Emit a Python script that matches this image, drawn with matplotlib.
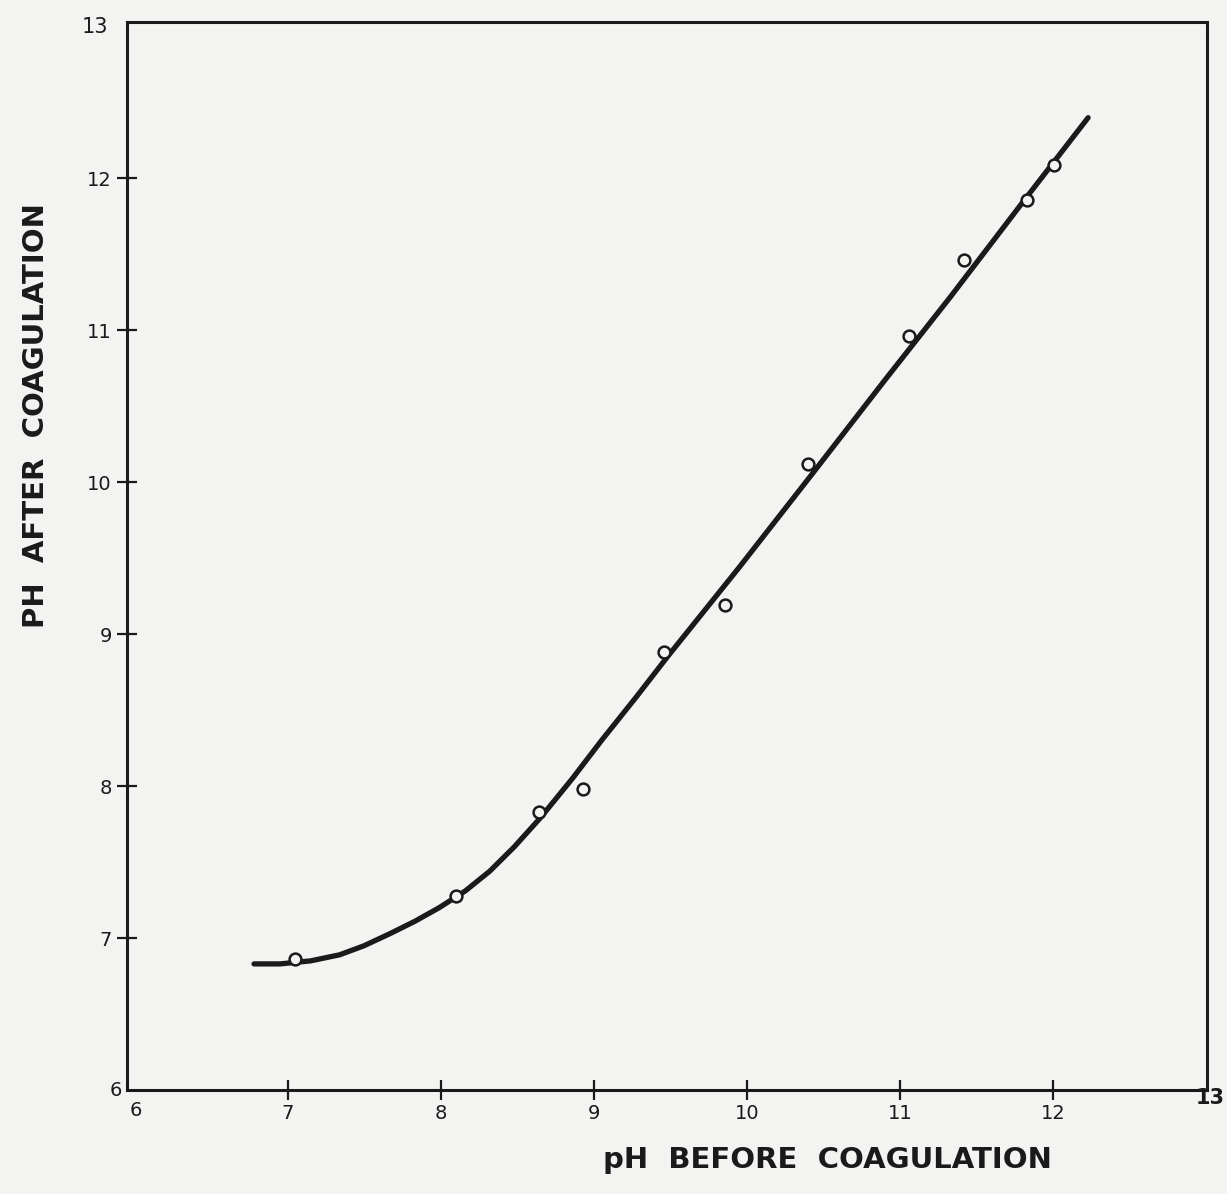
import numpy as np
import matplotlib.pyplot as plt

# measured points
ph_before = [7.05, 8.10, 8.64, 8.93, 9.46, 9.86, 10.40, 11.06, 11.42, 11.83, 12.01]
ph_after = [6.86, 7.28, 7.83, 7.98, 8.88, 9.19, 10.12, 10.96, 11.46, 11.86, 12.09]

# hand-drawn smooth curve through the data
curve_x = [6.78, 6.95, 7.15, 7.34, 7.50, 7.67, 7.83, 7.99, 8.16, 8.32, 8.48,
           8.65, 8.86, 9.05, 9.28, 9.48, 9.95, 10.40, 10.90, 11.33, 11.80, 12.23]
curve_y = [6.83, 6.83, 6.85, 6.89, 6.95, 7.03, 7.11, 7.20, 7.31, 7.44, 7.60,
           7.79, 8.05, 8.30, 8.59, 8.85, 9.44, 10.02, 10.67, 11.22, 11.84, 12.40]

xticks = [7, 8, 9, 10, 11, 12]
yticks = [7, 8, 9, 10, 11, 12]

paper = '#f3f3f1'
ink = '#1a1a1a'

fig = plt.figure(figsize=(12.27, 11.94), dpi=100, facecolor=paper)
ax = fig.add_axes([0.1035, 0.0871, 0.8806, 0.8945], facecolor=paper)

ax.plot(curve_x, curve_y, color=ink, lw=3.8, solid_capstyle='round',
        solid_joinstyle='round', zorder=2)
ax.plot(ph_before, ph_after, 'o', ms=8.5, mfc=paper, mec=ink, mew=1.8, zorder=3)

ax.set_xlim(5.95, 13.01)
ax.set_ylim(6, 13.03)

for s in ax.spines.values():
    s.set_linewidth(2.2)
    s.set_color(ink)

ax.set_xticks(xticks)
ax.set_yticks(yticks)
ax.tick_params(direction='inout', length=14, width=1.6, colors=ink,
               labelsize=14, pad=4)
ax.tick_params(axis='x', pad=3)

# end labels sitting at the corners
ax.text(6.01, 5.93, '6', ha='center', va='top', fontsize=14, color=ink)
ax.text(5.92, 6.0, '6', ha='right', va='center', fontsize=14, color=ink)
ax.text(5.83, 13.0, '13', ha='right', va='center', fontsize=15, color=ink)
ax.text(13.03, 5.95, '13', ha='center', va='center', fontsize=15,
        fontweight='bold', color=ink)

fig.text(0.674, 0.022, 'pH  BEFORE  COAGULATION', fontsize=21, fontweight='bold',
         color=ink, ha='center', va='baseline')
fig.text(0.029, 0.652, 'PH  AFTER  COAGULATION', fontsize=21, fontweight='bold',
         color=ink, ha='center', va='center', rotation=90)

fig.savefig('out.png', dpi=100, facecolor=paper)
